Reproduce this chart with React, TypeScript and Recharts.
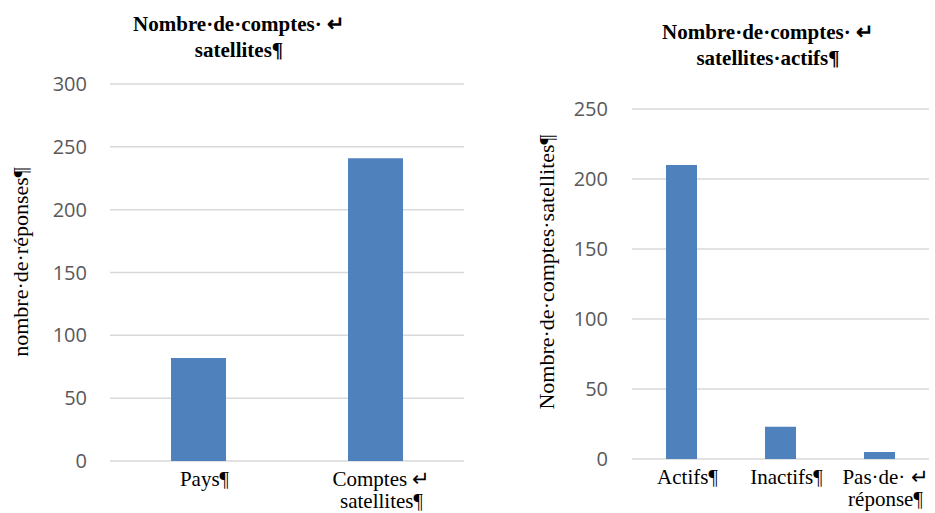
import { BarChart, Bar, XAxis, YAxis, CartesianGrid } from "recharts";

// left chart: nombre de comptes satellites
const leftCategories = ["Pays", "Comptes satellites"];
const leftValues = [82, 241];
const leftTickLabels = [["Pays¶"], ["Comptes ↵", "satellites¶"]];
const leftYTicks = [0, 50, 100, 150, 200, 250, 300];
const leftTitle = ["Nombre·de·comptes· ↵", "satellites¶"];
const leftYLabel = "nombre·de·réponses¶";

// right chart: comptes satellites actifs
const rightCategories = ["Actifs", "Inactifs", "Pas de réponse"];
const rightValues = [210, 23, 5];
const rightTickLabels = [["Actifs¶"], ["Inactifs¶"], ["Pas·de· ↵", "réponse¶"]];
const rightYTicks = [0, 50, 100, 150, 200, 250];
const rightTitle = ["Nombre·de·comptes· ↵", "satellites·actifs¶"];
const rightYLabel = "Nombre·de·comptes·satellites¶";

const BLUE = "#4f81bd";
const GRID = "#d9d9d9";
const SERIF = '"Liberation Serif", "Times New Roman", serif';
const SANS = '"Open Sans", sans-serif';

function makeTick(categories: string[], labels: string[][]) {
  return (props: any) => {
    const { x, y, payload } = props;
    const idx = categories.indexOf(payload.value);
    const lines = labels[idx] ?? [String(payload.value)];
    const cx = x + 6;
    return (
      <text x={cx} y={y + 25} textAnchor="middle" fontFamily={SERIF} fontSize={21} fill="#000">
        {lines.map((l, i) => (
          <tspan key={i} x={cx} dy={i === 0 ? 0 : 22}>
            {l}
          </tspan>
        ))}
      </text>
    );
  };
}

function Title({ lines, cx, top }: { lines: string[]; cx: number; top: number }) {
  return (
    <div
      style={{
        position: "absolute",
        left: cx,
        top,
        transform: "translateX(-50%)",
        textAlign: "center",
        whiteSpace: "nowrap",
        fontFamily: SERIF,
        fontWeight: "bold",
        fontSize: 21,
        lineHeight: "26px",
        color: "#000",
      }}
    >
      {lines.map((l, i) => (
        <div key={i}>{l}</div>
      ))}
    </div>
  );
}

function YLabel({ text, cx, cy }: { text: string; cx: number; cy: number }) {
  return (
    <div
      style={{
        position: "absolute",
        left: cx,
        top: cy,
        transform: "translate(-50%, -50%) rotate(-90deg)",
        whiteSpace: "nowrap",
        fontFamily: SERIF,
        fontSize: 22,
        lineHeight: "24px",
        color: "#000",
      }}
    >
      {text}
    </div>
  );
}

export default function App() {
  const leftData = leftCategories.map((name, i) => ({ name, value: leftValues[i] }));
  const rightData = rightCategories.map((name, i) => ({ name, value: rightValues[i] }));

  return (
    <div style={{ position: "absolute", left: 0, top: 0, width: 935, height: 513, background: "#fff", overflow: "hidden" }}>
      <div style={{ position: "absolute", left: 0, top: 0 }}>
        <BarChart width={470} height={513} data={leftData} margin={{ top: 84, right: 6, bottom: 0, left: 0 }}>
          <CartesianGrid vertical={false} stroke={GRID} strokeWidth={1.5} />
          <XAxis
            dataKey="name"
            height={52}
            axisLine={false}
            tickLine={false}
            tickSize={0}
            tickMargin={0}
            interval={0}
            tick={makeTick(leftCategories, leftTickLabels)}
          />
          <YAxis
            width={110}
            domain={[0, 300]}
            ticks={leftYTicks}
            axisLine={false}
            tickLine={false}
            tickSize={0}
            tickMargin={23}
            tick={{ fill: "#595959", fontFamily: SANS, fontSize: 20 }}
          />
          <Bar dataKey="value" fill={BLUE} barSize={55} isAnimationActive={false} />
        </BarChart>
      </div>

      <div style={{ position: "absolute", left: 470, top: 0 }}>
        <BarChart width={465} height={513} data={rightData} margin={{ top: 109, right: 6, bottom: 0, left: 0 }}>
          <CartesianGrid vertical={false} stroke={GRID} strokeWidth={1.5} />
          <XAxis
            dataKey="name"
            height={54}
            axisLine={false}
            tickLine={false}
            tickSize={0}
            tickMargin={0}
            interval={0}
            tick={makeTick(rightCategories, rightTickLabels)}
          />
          <YAxis
            width={162}
            domain={[0, 250]}
            ticks={rightYTicks}
            axisLine={false}
            tickLine={false}
            tickSize={0}
            tickMargin={24}
            tick={{ fill: "#595959", fontFamily: SANS, fontSize: 20 }}
          />
          <Bar dataKey="value" fill={BLUE} barSize={31} isAnimationActive={false} />
        </BarChart>
      </div>

      <Title lines={leftTitle} cx={239} top={11} />
      <Title lines={rightTitle} cx={768} top={19} />
      <YLabel text={leftYLabel} cx={21} cy={262} />
      <YLabel text={rightYLabel} cx={547} cy={272} />
    </div>
  );
}
